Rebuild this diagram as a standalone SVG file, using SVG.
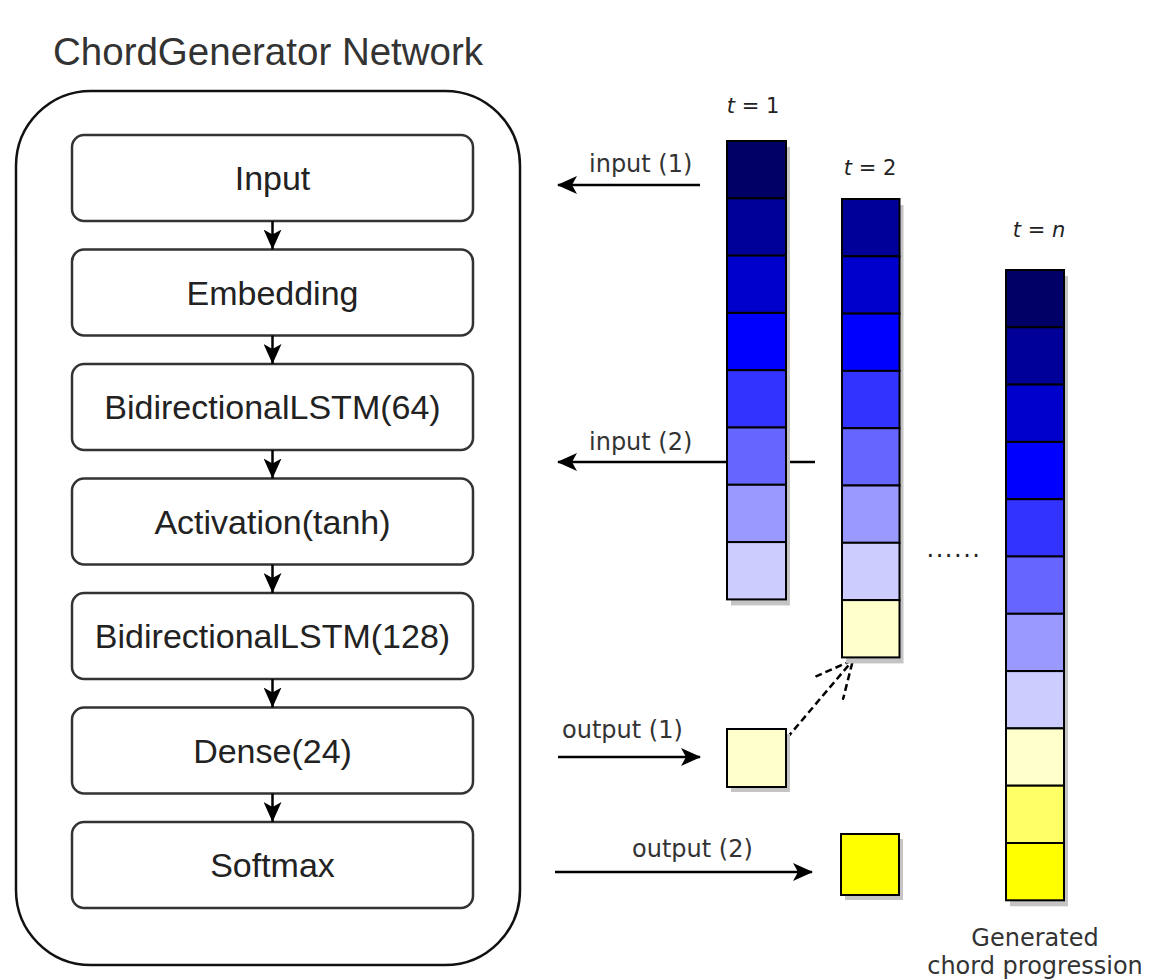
<svg xmlns="http://www.w3.org/2000/svg" width="1149" height="980" viewBox="0 0 1149 980">
<style>
.box{fill:#fff;stroke:#333;stroke-width:2.5}
.lbl{font-family:"Liberation Sans",Arial,sans-serif;font-size:34px;fill:#222;text-anchor:middle}
.sm{font-family:"DejaVu Sans",Verdana,sans-serif;font-size:24px;fill:#333}
.tl{font-family:"DejaVu Sans",Verdana,sans-serif;font-size:21px;fill:#222}
.cell{stroke:#000;stroke-width:2}
.shd{fill:#c4c4c4}
.ln{stroke:#000;stroke-width:2.5;fill:none}
</style>
<defs>
<marker id="arr" viewBox="0 0 20 20" refX="19" refY="10" markerWidth="20" markerHeight="20" markerUnits="userSpaceOnUse" orient="auto">
<path d="M0,1 L20,10 L0,19 L5,10 Z" fill="#000"/>
</marker>
<marker id="arrs" viewBox="0 0 20 18" refX="20" refY="9" markerWidth="20" markerHeight="18" markerUnits="userSpaceOnUse" orient="auto">
<path d="M0,0 L20,9 L0,18 L5,9 Z" fill="#000"/>
</marker>
<marker id="open" viewBox="0 0 38 38" refX="37" refY="19" markerWidth="38" markerHeight="38" markerUnits="userSpaceOnUse" orient="auto">
<path d="M0,1 L37,19 L0,37" fill="none" stroke="#000" stroke-width="2.5" stroke-dasharray="7 4"/>
</marker>
</defs>
<rect width="1149" height="980" fill="#fff"/>

<text x="53" y="65" font-family="Liberation Sans,Arial,sans-serif" font-size="38.5" fill="#333">ChordGenerator Network</text>

<g id="container">
<rect x="16" y="91" width="504" height="874" rx="75" ry="75" fill="none" stroke="#111" stroke-width="2.5"/>
</g>

<g id="node-input"><rect class="box" x="72" y="135" width="401" height="86" rx="12"/><text class="lbl" x="272.5" y="190">Input</text></g>
<g id="node-embedding"><rect class="box" x="72" y="249.5" width="401" height="86" rx="12"/><text class="lbl" x="272.5" y="304.5">Embedding</text></g>
<g id="node-lstm64"><rect class="box" x="72" y="364" width="401" height="86" rx="12"/><text class="lbl" x="272.5" y="419">BidirectionalLSTM(64)</text></g>
<g id="node-activation"><rect class="box" x="72" y="478.5" width="401" height="86" rx="12"/><text class="lbl" x="272.5" y="533.5">Activation(tanh)</text></g>
<g id="node-lstm128"><rect class="box" x="72" y="593" width="401" height="86" rx="12"/><text class="lbl" x="272.5" y="648">BidirectionalLSTM(128)</text></g>
<g id="node-dense"><rect class="box" x="72" y="707.5" width="401" height="86" rx="12"/><text class="lbl" x="272.5" y="762.5">Dense(24)</text></g>
<g id="node-softmax"><rect class="box" x="72" y="822" width="401" height="86" rx="12"/><text class="lbl" x="272.5" y="877">Softmax</text></g>

<g id="connectors">
<line class="ln" x1="272.5" y1="221" x2="272.5" y2="249.5" marker-end="url(#arrs)"/>
<line class="ln" x1="272.5" y1="335.5" x2="272.5" y2="364" marker-end="url(#arrs)"/>
<line class="ln" x1="272.5" y1="450" x2="272.5" y2="478.5" marker-end="url(#arrs)"/>
<line class="ln" x1="272.5" y1="564.5" x2="272.5" y2="593" marker-end="url(#arrs)"/>
<line class="ln" x1="272.5" y1="679" x2="272.5" y2="707.5" marker-end="url(#arrs)"/>
<line class="ln" x1="272.5" y1="793.5" x2="272.5" y2="822" marker-end="url(#arrs)"/>
<line class="ln" x1="700" y1="185" x2="558" y2="185" marker-end="url(#arr)"/>
<line class="ln" x1="815" y1="462" x2="558" y2="462" marker-end="url(#arr)"/>
<line class="ln" x1="558" y1="757" x2="700" y2="757" marker-end="url(#arr)"/>
<line class="ln" x1="555" y1="872" x2="812" y2="872" marker-end="url(#arr)"/>
<line x1="787" y1="738" x2="853" y2="660" stroke="#000" stroke-width="2.5" stroke-dasharray="7 4" marker-end="url(#open)"/>
</g>

<text class="sm" x="589" y="172">input (1)</text>
<text class="sm" x="589" y="450">input (2)</text>
<text class="sm" x="562" y="738">output (1)</text>
<text class="sm" x="632" y="857">output (2)</text>

<g id="col-t1">
<text class="tl" x="753" y="113" text-anchor="middle"><tspan font-style="italic">t</tspan> = 1</text>
<rect class="shd" x="731" y="147" width="59" height="458.4"/>
<rect class="cell" x="727" y="141" width="59" height="57.3" fill="#000066"/>
<rect class="cell" x="727" y="198.3" width="59" height="57.3" fill="#000099"/>
<rect class="cell" x="727" y="255.6" width="59" height="57.3" fill="#0000CC"/>
<rect class="cell" x="727" y="312.9" width="59" height="57.3" fill="#0000FF"/>
<rect class="cell" x="727" y="370.2" width="59" height="57.3" fill="#3333FF"/>
<rect class="cell" x="727" y="427.5" width="59" height="57.3" fill="#6666FF"/>
<rect class="cell" x="727" y="484.8" width="59" height="57.3" fill="#9999FF"/>
<rect class="cell" x="727" y="542.1" width="59" height="57.3" fill="#CCCCFF"/>
</g>

<g id="col-t2">
<text class="tl" x="870" y="175" text-anchor="middle"><tspan font-style="italic">t</tspan> = 2</text>
<rect class="shd" x="846" y="205" width="57.5" height="458.4"/>
<rect class="cell" x="842" y="199" width="57.5" height="57.3" fill="#000099"/>
<rect class="cell" x="842" y="256.3" width="57.5" height="57.3" fill="#0000CC"/>
<rect class="cell" x="842" y="313.6" width="57.5" height="57.3" fill="#0000FF"/>
<rect class="cell" x="842" y="370.9" width="57.5" height="57.3" fill="#3333FF"/>
<rect class="cell" x="842" y="428.2" width="57.5" height="57.3" fill="#6666FF"/>
<rect class="cell" x="842" y="485.5" width="57.5" height="57.3" fill="#9999FF"/>
<rect class="cell" x="842" y="542.8" width="57.5" height="57.3" fill="#CCCCFF"/>
<rect class="cell" x="842" y="600.1" width="57.5" height="57.3" fill="#FFFFCC"/>
</g>

<text x="954" y="557" text-anchor="middle" font-family="DejaVu Sans,sans-serif" font-size="24" letter-spacing="1.5" fill="#222">......</text>

<g id="col-tn">
<text class="tl" x="1039" y="237" text-anchor="middle"><tspan font-style="italic">t</tspan> = <tspan font-style="italic">n</tspan></text>
<rect class="shd" x="1010" y="276" width="58" height="630.3"/>
<rect class="cell" x="1006" y="270" width="58" height="57.3" fill="#000066"/>
<rect class="cell" x="1006" y="327.3" width="58" height="57.3" fill="#000099"/>
<rect class="cell" x="1006" y="384.6" width="58" height="57.3" fill="#0000CC"/>
<rect class="cell" x="1006" y="441.9" width="58" height="57.3" fill="#0000FF"/>
<rect class="cell" x="1006" y="499.2" width="58" height="57.3" fill="#3333FF"/>
<rect class="cell" x="1006" y="556.5" width="58" height="57.3" fill="#6666FF"/>
<rect class="cell" x="1006" y="613.8" width="58" height="57.3" fill="#9999FF"/>
<rect class="cell" x="1006" y="671.1" width="58" height="57.3" fill="#CCCCFF"/>
<rect class="cell" x="1006" y="728.4" width="58" height="57.3" fill="#FFFFCC"/>
<rect class="cell" x="1006" y="785.7" width="58" height="57.3" fill="#FFFF66"/>
<rect class="cell" x="1006" y="843" width="58" height="57.3" fill="#FFFF00"/>
<text class="sm" x="1035" y="946" text-anchor="middle">Generated</text>
<text class="sm" x="1035" y="974" text-anchor="middle">chord progression</text>
</g>

<g id="out1">
<rect class="shd" x="731" y="734" width="59" height="58"/>
<rect class="cell" x="727" y="729" width="59" height="58" fill="#FFFFCC"/>
</g>
<g id="out2">
<rect class="shd" x="845" y="839" width="58" height="61"/>
<rect class="cell" x="841" y="834" width="58" height="61" fill="#FFFF00"/>
</g>
</svg>
